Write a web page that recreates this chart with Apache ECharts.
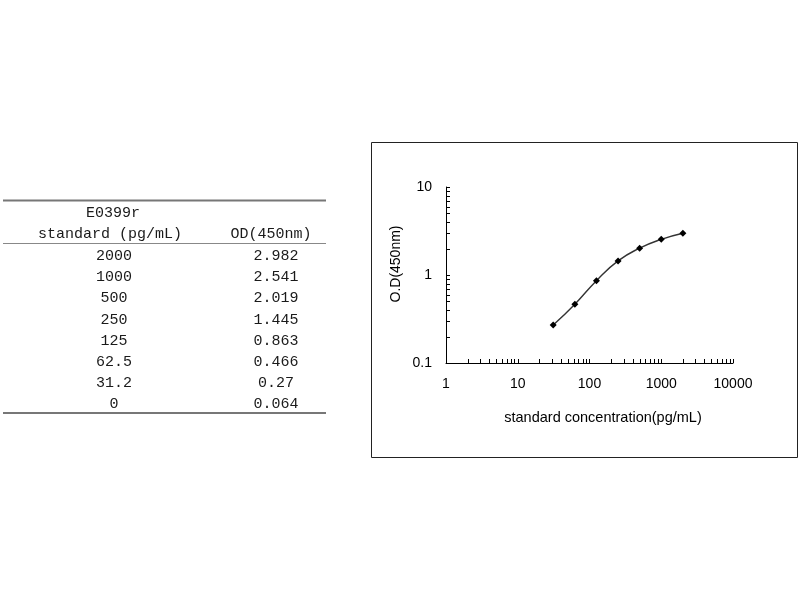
<!DOCTYPE html>
<html>
<head>
<meta charset="utf-8">
<script src="https://cdn.jsdelivr.net/npm/echarts@6/dist/echarts.min.js"></script>
<style>
html,body{margin:0;padding:0;background:#fff;}
#chart{width:800px;height:600px;}
</style>
</head>
<body>
<div id="chart"></div>
<script>
// ---- data ----
const tableTitle = 'E0399r';
const colHeaders = ['standard (pg/mL)', 'OD(450nm)'];
const standards = ['2000', '1000', '500', '250', '125', '62.5', '31.2', '0'];
const concentrations = [2000, 1000, 500, 250, 125, 62.5, 31.2, 0];
const odValues = [2.982, 2.541, 2.019, 1.445, 0.863, 0.466, 0.27, 0.064];
const xMinorTicks = [2,3,4,5,6,7,8,9,20,30,40,50,60,70,80,90,200,300,400,500,600,700,800,900,2000,3000,4000,5000,6000,7000,8000,9000];
const yMinorTicks = [0.2,0.3,0.4,0.5,0.6,0.7,0.8,0.9,2,3,4,5,6,7,8,9];
const xAxisName = 'standard concentration(pg/mL)';
const yAxisName = 'O.D(450nm)';

// ---- layout ----
const tableFont = '15px "Liberation Mono", monospace';
const tableColor = '#1a1a1a';
const col1X = 114, col2X = 276;
const rowStart = 256, rowStep = 21.2;

const chart = echarts.init(document.getElementById('chart'));

const graphics = [];
// frame around the chart
graphics.push({type:'rect', silent:true, shape:{x:371.5, y:142.5, width:426, height:315},
  style:{fill:'none', stroke:'#222', lineWidth:1}});
// table rules
graphics.push({type:'line', silent:true, shape:{x1:3, y1:200.5, x2:326, y2:200.5}, style:{stroke:'#777', lineWidth:2}});
graphics.push({type:'line', silent:true, shape:{x1:3, y1:243.5, x2:326, y2:243.5}, style:{stroke:'#888', lineWidth:1}});
graphics.push({type:'line', silent:true, shape:{x1:3, y1:413, x2:326, y2:413}, style:{stroke:'#777', lineWidth:2}});
// headers
function txt(t, x, y) {
  return {type:'text', silent:true, x:x, y:y,
    style:{text:t, font:tableFont, fill:tableColor, align:'center', verticalAlign:'middle'}};
}
graphics.push(txt(tableTitle, 113, 213));
graphics.push(txt(colHeaders[0], 110, 234));
graphics.push(txt(colHeaders[1], 271, 234));
standards.forEach((s, i) => {
  const y = rowStart + i * rowStep;
  graphics.push(txt(s, col1X, y));
  graphics.push(txt(String(odValues[i]), col2X, y));
});

const curveData = [];
concentrations.forEach((c, i) => { if (c > 0) curveData.push([c, odValues[i]]); });
curveData.sort((a, b) => a[0] - b[0]);

const fam = '"Liberation Sans", Arial, sans-serif';

chart.setOption({
  backgroundColor:'#fff',
  animation:false,
  grid:{left:446, right:67, top:187, bottom:237},
  graphic:graphics,
  xAxis:{
    type:'log', logBase:10, min:1, max:10000,
    axisLine:{lineStyle:{color:'#000', width:1}},
    axisTick:{inside:true, length:4, lineStyle:{color:'#000'}},
    axisLabel:{margin:14, formatter:v => String(v), fontFamily:fam, fontSize:14, color:'#000'},
    splitLine:{show:false},
    name:xAxisName, nameLocation:'middle', nameGap:47,
    nameTextStyle:{padding:[0,0,0,27], fontFamily:fam, fontSize:14.5, color:'#000'}
  },
  yAxis:{
    type:'log', logBase:10, min:0.1, max:10,
    axisLine:{show:true, lineStyle:{color:'#000', width:1}},
    axisTick:{show:true, inside:true, length:4, lineStyle:{color:'#000'}},
    axisLabel:{margin:14, formatter:v => (v < 1 ? '0.1' : String(Math.round(v))), fontFamily:fam, fontSize:14, color:'#000'},
    splitLine:{show:false},
    name:yAxisName, nameLocation:'middle', nameGap:43,
    nameTextStyle:{padding:[0,0,0,22], fontFamily:fam, fontSize:14, color:'#000'}
  },
  series:[
    {
      type:'line', data:curveData, smooth:0.5,
      symbol:'diamond', symbolSize:7,
      itemStyle:{color:'#000'},
      lineStyle:{color:'#333', width:1.4}
    },
    {
      type:'custom', silent:true, clip:false,
      data:xMinorTicks.map(v => [v, 0.1]),
      renderItem:(params, api) => {
        const p = api.coord([api.value(0), api.value(1)]);
        const x = Math.round(p[0]) + 0.5;
        return {type:'line', shape:{x1:x, y1:p[1], x2:x, y2:p[1] - 4}, style:{stroke:'#000', lineWidth:1}};
      }
    },
    {
      type:'custom', silent:true, clip:false,
      data:yMinorTicks.map(v => [1, v]),
      renderItem:(params, api) => {
        const p = api.coord([api.value(0), api.value(1)]);
        const y = Math.round(p[1]) + 0.5;
        return {type:'line', shape:{x1:p[0], y1:y, x2:p[0] + 4, y2:y}, style:{stroke:'#000', lineWidth:1}};
      }
    }
  ]
});
</script>
</body>
</html>
